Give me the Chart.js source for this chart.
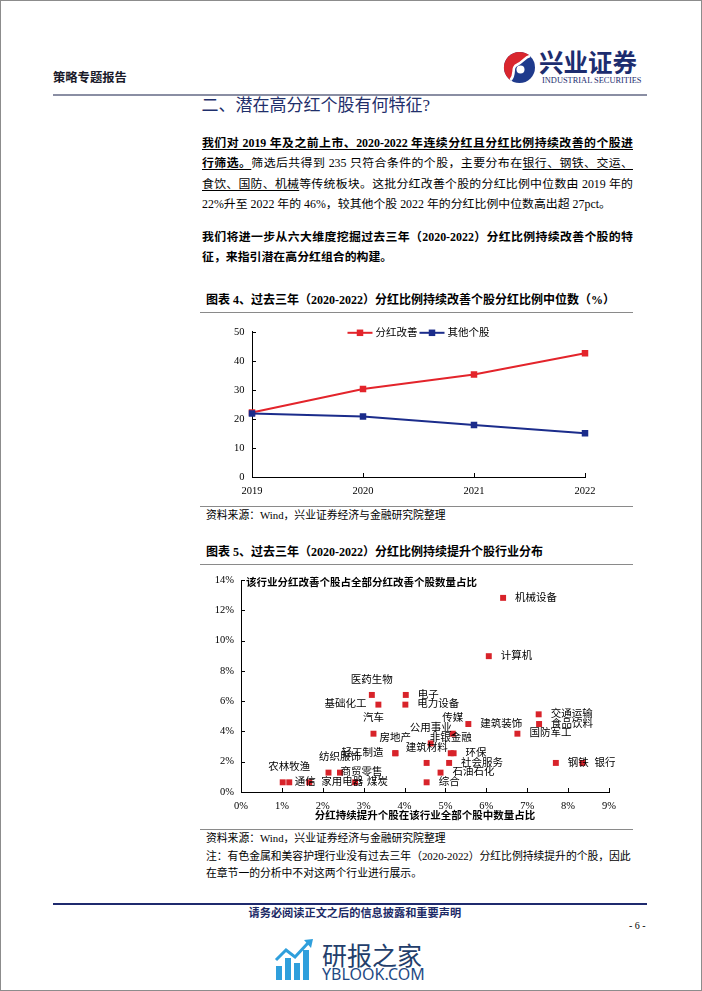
<!DOCTYPE html>
<html lang="zh-CN">
<head>
<meta charset="utf-8">
<title>策略专题报告</title>
<script src="https://cdn.jsdelivr.net/npm/chart.js@4.4.1/dist/chart.umd.min.js"></script>
<style>
html,body{margin:0;padding:0;background:#fff;}
body{position:relative;width:702px;height:991px;overflow:hidden;font-family:"Liberation Serif","Noto Sans CJK SC",serif;color:#000;}
.a{position:absolute;white-space:nowrap;}
.p{position:absolute;left:202px;width:431px;font-size:11.9px;line-height:20.2px;height:20.2px;text-align:justify;text-align-last:justify;overflow:visible;}
.p.last{text-align-last:left;}
.b{font-weight:bold;}
u{text-decoration-thickness:1px;text-underline-offset:2px;}
.cap{position:absolute;left:206px;font-size:12px;font-weight:bold;line-height:16px;white-space:nowrap;}
.src{position:absolute;left:206px;font-size:10.8px;line-height:16px;white-space:nowrap;}
.rule{position:absolute;left:200px;width:433px;height:0;border-top:1px solid #8a8a8a;}
canvas{position:absolute;}
</style>
</head>
<body>
<div class="a" style="left:0;top:0;width:700px;height:989px;border:1px solid #8c8c8c;"></div>

<!-- header -->
<div class="a b" style="left:53px;top:69.5px;font-size:12.3px;line-height:16px;color:#1a1a2a;">策略专题报告</div>
<svg class="a" style="left:502px;top:50px;" width="35" height="35" viewBox="-17.5 -17.5 35 35">
  <circle r="15.5" fill="#1f3a8c"/>
  <path d="M 10.5,-11.4 A 15.5 15.5 0 1 0 -9,12.6 C -3,6 -9,0 -2,-3 C 4,-6 5,-10 10.5,-11.4 Z" fill="#d9262e"/>
  <path d="M -9,12.6 C -3,6 -9,0 -2,-3 C 4,-6 5,-10 10.5,-11.4" fill="none" stroke="#fff" stroke-width="2.6"/>
  <circle cx="1" cy="2" r="4" fill="#fff"/>
</svg>
<div class="a b" style="left:539px;top:46.5px;font-size:24.5px;line-height:30px;color:#1d2d6f;font-family:'Noto Sans CJK SC';">兴业证券</div>
<div class="a" style="left:542px;top:75.5px;font-size:8.4px;line-height:10px;color:#1d2d6f;">INDUSTRIAL SECURITIES</div>
<div class="a" style="left:53px;top:93.5px;width:594px;height:2.5px;background:#8a8ea3;"></div>

<!-- heading -->
<div class="a" style="left:201.5px;top:95px;font-size:17px;line-height:22px;color:#1f2f6b;">二、潜在高分红个股有何特征?</div>

<!-- paragraph 1 -->
<div class="p" style="top:133.2px;"><span class="b"><u>我们对 2019 年及之前上市、2020-2022 年连续分红且分红比例持续改善的个股进</u></span></div>
<div class="p" style="top:153.4px;"><span class="b"><u>行筛选。</u></span>筛选后共得到 235 只符合条件的个股，主要分布在<u>银行、钢铁、交运、</u></div>
<div class="p" style="top:173.6px;"><u>食饮、国防、机械</u>等传统板块。这批分红改善个股的分红比例中位数由 2019 年的</div>
<div class="p last" style="top:193.8px;">22%升至 2022 年的 46%，较其他个股 2022 年的分红比例中位数高出超 27pct。</div>

<!-- paragraph 2 -->
<div class="p b" style="top:226.6px;">我们将进一步从六大维度挖掘过去三年（2020-2022）分红比例持续改善个股的特</div>
<div class="p b last" style="top:246.8px;">征，来指引潜在高分红组合的构建。</div>

<!-- chart 4 -->
<div class="cap" style="top:292px;">图表 4、过去三年（2020-2022）分红比例持续改善个股分红比例中位数（%）</div>
<div class="rule" style="top:312px;"></div>
<canvas id="c1" width="433" height="188" style="left:200px;top:318px;width:433px;height:188px;"></canvas>
<div class="rule" style="top:506px;"></div>
<div class="src" style="top:507px;">资料来源：Wind，兴业证券经济与金融研究院整理</div>

<!-- chart 5 -->
<div class="cap" style="top:543.5px;">图表 5、过去三年（2020-2022）分红比例持续提升个股行业分布</div>
<div class="rule" style="top:564px;"></div>
<canvas id="c2" width="433" height="262" style="left:200px;top:566px;width:433px;height:262px;"></canvas>
<div class="rule" style="top:829px;"></div>
<div class="src" style="top:829.7px;">资料来源：Wind，兴业证券经济与金融研究院整理</div>
<div class="src" style="top:848px;">注：有色金属和美容护理行业没有过去三年（2020-2022）分红比例持续提升的个股，因此</div>
<div class="src" style="top:865.3px;">在章节一的分析中不对这两个行业进行展示。</div>

<!-- footer -->
<div class="a" style="left:53px;top:902.5px;width:594px;height:2px;background:#1f2a6e;"></div>
<div class="a b" style="left:248.5px;top:905.7px;font-size:11.2px;line-height:14px;color:#1c2a66;">请务必阅读正文之后的信息披露和重要声明</div>
<div class="a" style="left:629px;top:918px;font-size:10px;line-height:16px;">- 6 -</div>

<!-- watermark -->
<svg class="a" style="left:274px;top:938px;" width="42" height="44" viewBox="0 0 42 44">
  <rect x="2" y="28" width="6" height="14" fill="#2f9fdc"/>
  <rect x="11" y="20" width="6" height="22" fill="#2f9fdc"/>
  <rect x="20" y="25" width="6" height="17" fill="#2f9fdc"/>
  <rect x="29" y="12" width="6" height="30" fill="#2f9fdc"/>
  <polyline points="2,22 12,12 21,19 34,5" fill="none" stroke="#2f9fdc" stroke-width="3"/>
  <polygon points="30,2 39,1 37,10" fill="#2f9fdc"/>
</svg>
<div class="a" style="left:322px;top:940px;font-size:25px;line-height:28px;color:#233e6b;font-family:'Noto Sans CJK SC';">研报之家</div>
<div class="a" style="left:322px;top:965px;font-size:16px;line-height:18px;color:#1f4a84;font-family:'Noto Sans','Open Sans',sans-serif;">YBLOOK.COM</div>

<script>
// ---------- data: chart 4 ----------
const lineYears = ['2019', '2020', '2021', '2022'];
const lineSeriesNames = ['分红改善', '其他个股'];
const improvedMedian = [22.2, 30.3, 35.3, 42.6];
const otherMedian = [21.9, 20.8, 17.9, 15.1];
const lineYMin = 0, lineYMax = 50, lineYStep = 10;

// ---------- data: chart 5 ----------
const industries = ['机械设备','计算机','医药生物','电子','基础化工','电力设备','汽车','房地产','轻工制造','纺织服饰',
  '商贸零售','农林牧渔','通信','家用电器','煤炭','综合','石油石化','社会服务','建筑材料','公用事业',
  '非银金融','环保','传媒','建筑装饰','交通运输','食品饮料','国防军工','钢铁','银行'];
const shareInIndustry = [6.41, 6.06, 3.20, 4.03, 3.36, 4.02, 3.24, 3.77, 3.78, 2.42,
  2.14, 1.18, 1.02, 1.67, 2.79, 4.54, 4.88, 5.09, 4.54, 4.64,
  5.13, 5.20, 5.18, 5.56, 7.28, 7.29, 6.76, 7.70, 8.35];
const shareOfImproved = [12.82, 8.97, 6.41, 6.41, 5.77, 5.77, 3.85, 2.56, 2.56, 1.28,
  1.28, 0.64, 0.64, 0.64, 0.64, 0.64, 1.28, 1.92, 1.92, 3.21,
  2.56, 2.56, 3.85, 4.49, 5.13, 4.49, 3.85, 1.92, 1.92];
const scatterXMin = 0, scatterXMax = 9, scatterXStep = 1;
const scatterYMin = 0, scatterYMax = 14, scatterYStep = 2;
const scatterXTitle = '分红持续提升个股在该行业全部个股中数量占比';
const scatterYTitle = '该行业分红改善个股占全部分红改善个股数量占比';

// ---------- styles ----------
const labelSide = ['r','r','t','r','l','r','t','t','l','t',
  'r','t','r','r','r','r','r','r','t','t',
  't','r','t','r','r','r','r','r','r'];
const FONT = "'Liberation Serif','Noto Sans CJK SC',serif";
const RED = '#E3242B', BLUE = '#1B2C8B', DOT = '#D8232A';
Chart.defaults.font.family = FONT;
Chart.defaults.color = '#000';

const innerTicks = {
  id: 'innerTicks',
  afterDraw(chart, args, opts) {
    const {ctx} = chart; const x = chart.scales.x, y = chart.scales.y;
    ctx.save(); ctx.strokeStyle = '#000'; ctx.lineWidth = 1; ctx.beginPath();
    x.ticks.forEach((t, i) => { const px = Math.round(x.getPixelForTick(i)) + 0.5; ctx.moveTo(px, x.top); ctx.lineTo(px, x.top - opts.len); });
    y.ticks.forEach((t, i) => { const py = Math.round(y.getPixelForTick(i)) + 0.5; ctx.moveTo(y.right, py); ctx.lineTo(y.right + opts.len, py); });
    ctx.stroke(); ctx.restore();
  }
};

const lineLegend = {
  id: 'lineLegend',
  afterDraw(chart, args, opts) {
    const {ctx, chartArea: area} = chart;
    ctx.save(); ctx.font = opts.font; ctx.textBaseline = 'middle'; ctx.textAlign = 'left';
    const items = chart.data.datasets.map(ds => ({text: ds.label, color: ds.borderColor, w: ctx.measureText(ds.label).width}));
    const total = items.reduce((s, it) => s + opts.seg + opts.gap + it.w, 0) + opts.itemGap * (items.length - 1);
    let x = (area.left + area.right) / 2 - total / 2;
    const y = area.top + opts.dy;
    items.forEach(it => {
      ctx.strokeStyle = it.color; ctx.lineWidth = 2; ctx.beginPath(); ctx.moveTo(x, y); ctx.lineTo(x + opts.seg, y); ctx.stroke();
      ctx.fillStyle = it.color; ctx.fillRect(x + opts.seg / 2 - opts.box / 2, y - opts.box / 2, opts.box, opts.box);
      ctx.fillStyle = '#000'; ctx.fillText(it.text, x + opts.seg + opts.gap, y + 0.5);
      x += opts.seg + opts.gap + it.w + opts.itemGap;
    });
    ctx.restore();
  }
};

const pointLabels = {
  id: 'pointLabels',
  afterDatasetsDraw(chart, args, opts) {
    const {ctx, chartArea: area} = chart;
    const meta = chart.getDatasetMeta(0);
    ctx.save(); ctx.fillStyle = '#000'; ctx.font = opts.font; ctx.textBaseline = 'middle';
    meta.data.forEach((el, i) => {
      const side = opts.sides[i], t = opts.labels[i];
      if (side === 'r') { ctx.textAlign = 'left'; ctx.fillText(t, el.x + opts.off, el.y); }
      else if (side === 'l') { ctx.textAlign = 'right'; ctx.fillText(t, el.x - opts.off, el.y); }
      else { ctx.textAlign = 'center'; ctx.fillText(t, el.x, el.y - opts.up); }
    });
    ctx.font = opts.titleFont; ctx.textAlign = 'left';
    ctx.fillText(opts.yTitle, area.left + 5, area.top + 3);
    ctx.restore();
  }
};

const tickFont = {size: 10.5, family: FONT};

new Chart(document.getElementById('c1'), {
  type: 'line',
  data: {
    labels: lineYears,
    datasets: [
      {label: lineSeriesNames[0], data: improvedMedian, borderColor: RED, backgroundColor: RED, borderWidth: 2,
       pointStyle: 'rect', pointRadius: 4.6, pointHoverRadius: 4.6, pointBorderWidth: 0, tension: 0, order: 1},
      {label: lineSeriesNames[1], data: otherMedian, borderColor: BLUE, backgroundColor: BLUE, borderWidth: 2,
       pointStyle: 'rect', pointRadius: 4.6, pointHoverRadius: 4.6, pointBorderWidth: 0, tension: 0, order: 0}
    ]
  },
  options: {
    responsive: false, animation: false,
    layout: {padding: {top: 11, right: 48, left: 0, bottom: 0}},
    plugins: {
      legend: {display: false}, tooltip: {enabled: false},
      innerTicks: {len: 4},
      lineLegend: {font: "10.5px " + FONT, seg: 25, gap: 3, itemGap: 2, box: 6.5, dy: 1}
    },
    scales: {
      x: {
        grid: {drawOnChartArea: false, drawTicks: false},
        border: {color: '#000', width: 1},
        ticks: {color: '#000', font: tickFont, padding: 7.7, maxRotation: 0, autoSkip: false},
        afterFit(s) { s.height = 29; }
      },
      y: {
        min: lineYMin, max: lineYMax,
        grid: {drawOnChartArea: false, drawTicks: false},
        border: {color: '#000', width: 1},
        ticks: {stepSize: lineYStep, color: '#000', font: tickFont, padding: 7.5},
        afterFit(s) { s.width = 52; }
      }
    }
  },
  plugins: [innerTicks, lineLegend]
});

new Chart(document.getElementById('c2'), {
  type: 'scatter',
  data: {
    datasets: [{
      label: '行业', data: industries.map((n, i) => ({x: shareInIndustry[i], y: shareOfImproved[i]})),
      backgroundColor: DOT, borderWidth: 0, pointStyle: 'rect', pointRadius: 4.2, pointHoverRadius: 4.2
    }]
  },
  options: {
    responsive: false, animation: false,
    layout: {padding: {top: 14, right: 24, left: 0, bottom: 0}},
    plugins: {
      legend: {display: false}, tooltip: {enabled: false},
      innerTicks: {len: 4},
      pointLabels: {labels: industries, sides: labelSide, font: "10.5px " + FONT, off: 12, up: 15,
                    yTitle: scatterYTitle, titleFont: "bold 10.5px " + FONT}
    },
    scales: {
      x: {
        type: 'linear', min: scatterXMin, max: scatterXMax,
        grid: {drawOnChartArea: false, drawTicks: false},
        border: {color: '#000', width: 1},
        ticks: {stepSize: scatterXStep, color: '#000', font: tickFont, padding: 7.7, callback: v => v + '%'},
        title: {display: true, text: scatterXTitle, color: '#000', font: {size: 10.5, weight: 'bold', family: FONT}, padding: {top: 0, bottom: 5.7}},
        afterFit(s) { s.height = 36; }
      },
      y: {
        min: scatterYMin, max: scatterYMax,
        grid: {drawOnChartArea: false, drawTicks: false},
        border: {color: '#000', width: 1},
        ticks: {stepSize: scatterYStep, color: '#000', font: tickFont, padding: 7, callback: v => v + '%'},
        afterFit(s) { s.width = 41; }
      }
    }
  },
  plugins: [innerTicks, pointLabels]
});
</script>
</body>
</html>
